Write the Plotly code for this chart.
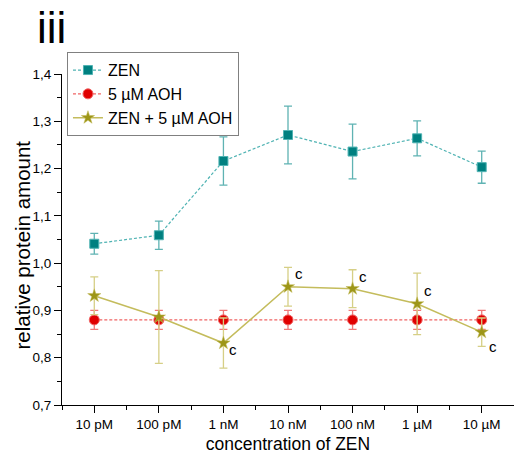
import plotly.graph_objects as go

categories = ["10 pM", "100 pM", "1 nM", "10 nM", "100 nM", "1 µM", "10 µM"]
zen = [1.041, 1.059, 1.216, 1.271, 1.236, 1.264, 1.203]
zen_err = [0.022, 0.030, 0.051, 0.061, 0.058, 0.037, 0.034]
aoh = [0.880, 0.880, 0.880, 0.880, 0.880, 0.880, 0.880]
aoh_err = [0.020, 0.020, 0.020, 0.020, 0.020, 0.020, 0.020]
combo = [0.931, 0.886, 0.831, 0.950, 0.946, 0.914, 0.854]
combo_err = [0.040, 0.098, 0.053, 0.041, 0.040, 0.065, 0.030]
sig_labels = ["", "", "c", "c", "c", "c", "c"]
sig_offsets = [(0, 0), (0, 0), (10, -6), (11, 13), (10, 12), (11, 13), (11, -14)]

x = list(range(len(categories)))
FONT = "Liberation Sans, Arial, sans-serif"

fig = go.Figure()
fig.add_trace(go.Scatter(
    x=x, y=zen, name="ZEN", mode="lines+markers",
    line=dict(color="#4fb3b3", width=1.2, dash="3px,2px"),
    marker=dict(symbol="square", size=9, color="#008080", line=dict(color="#4fb3b3", width=1)),
    error_y=dict(type="data", array=zen_err, color="#5fb3b3", thickness=1.3, width=4),
))
fig.add_trace(go.Scatter(
    x=x, y=aoh, name="5 µM AOH", mode="lines+markers",
    line=dict(color="#f06464", width=1.2, dash="3px,2px"),
    marker=dict(symbol="circle", size=10, color="#e00000", line=dict(color="#f06464", width=1)),
    error_y=dict(type="data", array=aoh_err, color="#f07878", thickness=1.3, width=4),
))
fig.add_trace(go.Scatter(
    x=x, y=combo, name="ZEN + 5 µM AOH", mode="lines+markers",
    line=dict(color="#c4bc5c", width=1.5),
    marker=dict(symbol="star", size=10, color="#9d9618", line=dict(color="#c4bc5c", width=0.5)),
    error_y=dict(type="data", array=combo_err, color="#d6cf86", thickness=1.3, width=4),
))

for xi, yi, lab, (dx, dy) in zip(x, combo, sig_labels, sig_offsets):
    if lab:
        fig.add_annotation(x=xi, y=yi, text=lab, showarrow=False, xshift=dx, yshift=dy,
                           xanchor="center", yanchor="middle",
                           font=dict(family=FONT, size=15, color="black"))

fig.add_annotation(xref="paper", yref="paper", x=-0.024, y=1.22, text="iii", showarrow=False,
                   xanchor="center", yanchor="top", font=dict(family=FONT, size=44, color="black"))

fig.add_annotation(xref="paper", yref="paper", x=-0.0885, y=0.485, text="relative protein amount",
                   showarrow=False, textangle=-90, xanchor="center", yanchor="middle",
                   font=dict(family=FONT, size=20.5, color="black"))

fig.update_layout(
    width=514, height=455,
    margin=dict(l=62, r=0, t=74, b=50),
    paper_bgcolor="white", plot_bgcolor="white",
    separators=",.",
    font=dict(family=FONT, color="black"),
    showlegend=True,
    legend=dict(x=0.011, y=1.066, xanchor="left", yanchor="top",
                bgcolor="white", bordercolor="#808080", borderwidth=1,
                font=dict(family=FONT, size=16, color="black"),
                tracegroupgap=0, itemwidth=30),
)
fig.update_xaxes(
    range=[-0.5, 6.5], tickmode="array", tickvals=x, ticktext=categories,
    showline=True, linecolor="black", linewidth=1.2, mirror=False,
    ticks="outside", ticklen=7, tickwidth=1.2, tickcolor="black",
    minor=dict(tick0=0.5, dtick=1, ticks="outside", ticklen=4, tickwidth=1.2, tickcolor="black"),
    showgrid=False, zeroline=False,
    tickfont=dict(family=FONT, size=13.5, color="black"),
    title=dict(text="concentration of ZEN", font=dict(family=FONT, size=17.5, color="black"), standoff=6),
)
fig.update_yaxes(
    range=[0.7, 1.4], dtick=0.1, tick0=0.7, tickformat=".1f",
    showline=True, linecolor="black", linewidth=1.2,
    ticks="outside", ticklen=7, tickwidth=1.2, tickcolor="black",
    minor=dict(tick0=0.75, dtick=0.1, ticks="outside", ticklen=4, tickwidth=1.2, tickcolor="black"),
    showgrid=False, zeroline=False,
    tickfont=dict(family=FONT, size=13.5, color="black"),
)

fig.write_html("out.html")
